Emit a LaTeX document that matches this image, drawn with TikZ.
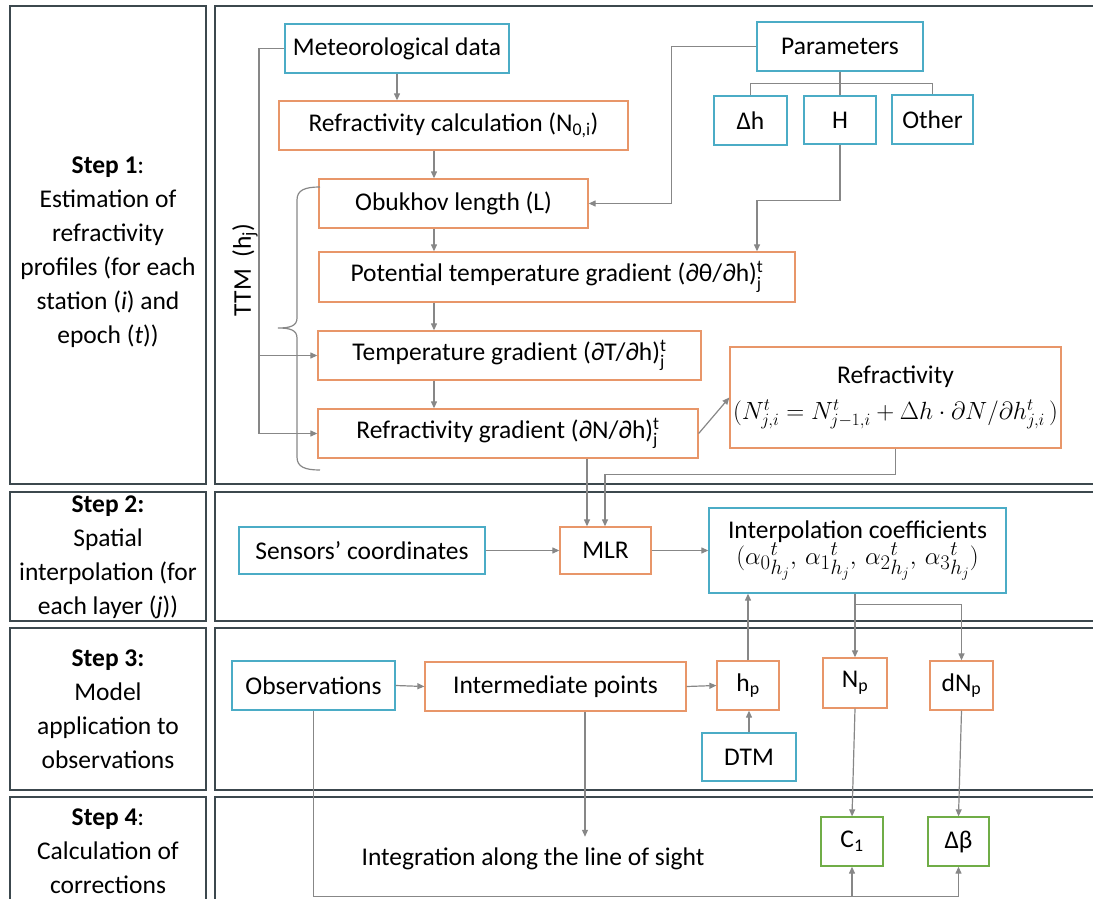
\documentclass[tikz,border=0pt]{standalone}
\usepackage{amsmath}
\usepackage{fontspec}
\setmainfont{Carlito}
\usetikzlibrary{arrows.meta,calc}
\definecolor{cyanb}{RGB}{75,172,198}
\definecolor{orb}{RGB}{232,150,105}
\definecolor{grb}{RGB}{112,173,71}
\definecolor{panelc}{RGB}{60,72,78}
\definecolor{arr}{RGB}{135,135,135}
\begin{document}
\begin{tikzpicture}[x=1pt,y=-1pt, font=\fontsize{25.5}{30}\selectfont,
 box/.style={draw, line width=1.3pt, inner sep=0pt, align=center},
 cbox/.style={box, draw=cyanb}, obox/.style={box, draw=orb}, gbox/.style={box, draw=grb},
 wire/.style={draw=arr, line width=1.2pt},
 arrow/.style={wire, -{Triangle[length=7pt,width=6pt]}},
 panelbox/.style={draw=panelc, line width=1.8pt},
 steptext/.style={align=center, font=\fontsize{25.5}{34}\selectfont}]
\useasboundingbox (0,0) rectangle (1093,899);
\begin{scope}
\clip (0,0) rectangle (1093,899);
% panels
\draw[panelbox] (10,6) rectangle (206,484);
\draw[panelbox] (10,492) rectangle (206,621);
\draw[panelbox] (10,628) rectangle (206,790);
\draw[panelbox] (10,797) rectangle (206,920);
\draw[panelbox] (215,6) rectangle (1110,484);
\draw[panelbox] (215,492) rectangle (1110,621);
\draw[panelbox] (215,628) rectangle (1110,790);
\draw[panelbox] (215,797) rectangle (1110,920);
\end{scope}
% step texts
\node[steptext] (s1) at (108,252) {\textbf{Step 1}:\\Estimation of\\refractivity\\profiles (for each\\station (\textit{i}) and\\epoch (\textit{t}))};
\node[steptext] (s2) at (108,557) {\textbf{Step 2:}\\Spatial\\interpolation (for\\each layer (\textit{j}))};
\node[steptext] (s3) at (108,709) {\textbf{Step 3:}\\Model\\application to\\observations};
\node[steptext] (s4) at (108,851) {\textbf{Step 4}:\\Calculation of\\corrections};
% step 1 nodes
\node[cbox, minimum width=224pt, minimum height=49pt] (met) at (397,48.5) {Meteorological data};
\node[obox, minimum width=349pt, minimum height=49pt] (refcalc) at (453.5,125.5) {Refractivity calculation (N\textsubscript{0,i})};
\node[obox, minimum width=269pt, minimum height=49pt] (obuk) at (453.5,203.5) {Obukhov length (L)};
\node[obox, minimum width=476pt, minimum height=50pt] (pot) at (557,277) {Potential temperature gradient (∂θ/∂h)$^{\text{t}}_{\text{j}}$};
\node[obox, minimum width=383pt, minimum height=49pt] (tgrad) at (509.5,355.5) {Temperature gradient (∂T/∂h)$^{\text{t}}_{\text{j}}$};
\node[obox, minimum width=380pt, minimum height=49pt] (ngrad) at (508,433.5) {Refractivity gradient (∂N/∂h)$^{\text{t}}_{\text{j}}$};
\node[obox, minimum width=331pt, minimum height=101pt] (refr) at (895.5,397.5) {Refractivity\\[6pt] $(N_{j,i}^{t}=N_{j-1,i}^{t}+\Delta h\cdot \partial N/\partial h_{j,i}^{t}\,)$};
\node[cbox, minimum width=166pt, minimum height=49pt] (params) at (840,46.5) {Parameters};
\node[cbox, minimum width=73pt, minimum height=49pt] (dh) at (750.5,120.5) {Δh};
\node[cbox, minimum width=72pt, minimum height=48pt] (H) at (840,120) {H};
\node[cbox, minimum width=81pt, minimum height=49pt] (other) at (932.5,119.5) {Other};
\node[rotate=90] (ttm) at (245,270) {TTM\ \ (h\textsubscript{j})};
% step 2 nodes
\node[cbox, minimum width=246pt, minimum height=47pt] (sensors) at (362,550.5) {Sensors’ coordinates};
\node[obox, minimum width=91pt, minimum height=47pt] (mlr) at (605.5,550.5) {MLR};
\node[cbox, minimum width=297pt, minimum height=85pt] (interp) at (857.5,550.5) {Interpolation coefficients\\[-4pt] {\fontsize{28}{30}\selectfont$({\alpha_0}^{t}_{h_j},\, {\alpha_1}^{t}_{h_j},\, {\alpha_2}^{t}_{h_j},\, {\alpha_3}^{t}_{h_j})$}};
% step 3 nodes
\node[cbox, minimum width=163pt, minimum height=49pt] (obs) at (313.5,685.5) {Observations};
\node[obox, minimum width=261pt, minimum height=49pt] (inter) at (555.5,686.5) {Intermediate points};
\node[obox, minimum width=62pt, minimum height=49pt] (hp) at (748,685.5) {h\textsubscript{p}};
\node[cbox, minimum width=94pt, minimum height=48pt] (dtm) at (749,757) {DTM};
\node[obox, minimum width=64pt, minimum height=50pt] (np) at (855,683) {N\textsubscript{p}};
\node[obox, minimum width=63pt, minimum height=49pt] (dnp) at (961.5,685.5) {dN\textsubscript{p}};
% step 4 nodes
\node[inner xsep=0pt, inner ysep=11pt] (integ) at (533,859) {Integration along the line of sight};
\node[gbox, minimum width=62pt, minimum height=49pt] (c1) at (852,841.5) {C\textsubscript{1}};
\node[gbox, minimum width=61pt, minimum height=49pt] (db) at (958.5,841.5) {Δβ};
% helper coordinates
\coordinate (spine) at (434,0);
\coordinate (ttmx) at (259,0);
\coordinate (m1) at ([xshift=-18.5pt]mlr.north);
\coordinate (m2) at ([xshift=-0.5pt]mlr.north);
\coordinate (ia) at ([xshift=29.5pt]inter.south);
\coordinate (bot) at ([yshift=-186pt]obs.south);
% step 1 connectors
\draw[arrow] (met.south) -- (met.south |- refcalc.north);
\draw[arrow] (refcalc.south -| spine) -- (obuk.north -| spine);
\draw[arrow] (obuk.south -| spine) -- (pot.north -| spine);
\draw[arrow] (pot.south -| spine) -- (tgrad.north -| spine);
\draw[arrow] (tgrad.south -| spine) -- (ngrad.north -| spine);
\draw[arrow] (ngrad.east) -- (refr.west);
\draw[arrow] (params.west) -- ++(-85,0) |- (obuk.east);
\draw[wire] (params.south) -- (H.north);
\draw[wire] ([yshift=-12pt]params.south) -| (dh.north);
\draw[wire] ([yshift=-12pt]params.south) -| (other.north);
\draw[arrow] (H.south) -- ++(0,56) -| ([xshift=200pt]pot.north);
\draw[arrow] (met.west) -- (met.west -| ttmx) |- (ngrad.west);
\draw[arrow] (tgrad.west -| ttmx) -- (tgrad.west);
\draw[wire] (320,187) .. controls (305,187) and (297,190) .. (297,200) -- (297,318) .. controls (297,326) and (290,328) .. (278,328) .. controls (290,328) and (297,330) .. (297,338) -- (297,457) .. controls (297,467) and (305,470) .. (320,470);
% step 2 connectors
\draw[arrow] (m1 |- ngrad.south) -- (m1);
\draw[arrow] (refr.south) -- ++(0,26) -| (m2);
\draw[arrow] (sensors.east) -- (mlr.west);
\draw[arrow] (mlr.east) -- (interp.west);
% step 3 connectors
\draw[arrow] (obs.east) -- (inter.west);
\draw[arrow] (inter.east) -- (hp.west);
\draw[arrow] (hp.north) -- (hp.north |- interp.south);
\draw[arrow] (dtm.north) -- (dtm.north |- hp.south);
\draw[arrow] (np.north |- interp.south) -- (np.north);
\draw[arrow] ([yshift=-11pt]np.north |- interp.south) -| (dnp.north);
% step 4 connectors
\draw[arrow] (ia) -- (ia |- integ.north);
\draw[arrow] (np.south) -- (c1.north);
\draw[arrow] (dnp.south) -- (db.north);
\draw[arrow] (obs.south) -- (bot) -| (db.south);
\draw[arrow] (bot -| c1.south) -- (c1.south);
\end{tikzpicture}
\end{document}
